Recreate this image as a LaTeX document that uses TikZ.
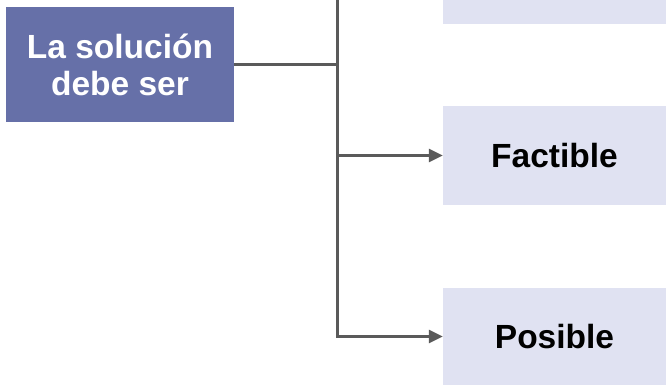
\documentclass[tikz,border=0pt]{standalone}
\usepackage{fontspec}
\setmainfont{Liberation Sans}
\usetikzlibrary{arrows.meta}
\definecolor{darkbox}{HTML}{6670A8}
\definecolor{lightbox}{HTML}{E0E2F2}
\definecolor{linegray}{HTML}{5A5A5A}
\begin{document}
\begin{tikzpicture}[x=1pt,y=-1pt,
  mainbox/.style={fill=darkbox,draw=none,minimum width=228pt,minimum height=115pt,inner sep=0pt,
    font=\fontsize{33.5}{37}\selectfont\bfseries,text=white,align=center},
  optbox/.style={fill=lightbox,draw=none,minimum width=223pt,inner sep=0pt,
    font=\fontsize{33.5}{37}\selectfont\bfseries,text=black,align=center},
  conn/.style={draw=linegray,line width=3pt},
  arr/.style={conn,-{Triangle[length=14pt,width=13pt]}}]
\useasboundingbox (0,0) rectangle (666,386);
\node[mainbox] (src) at (120,64.5) {La solución\\debe ser};
\node[optbox,minimum height=30pt] (top) at (554.5,9) {};
\node[optbox,minimum height=99pt] (fac) at (554.5,155.5) {Factible};
\node[optbox,minimum height=97pt] (pos) at (554.5,336.5) {Posible};
\coordinate (j) at (337.5,64.5);
\coordinate (t) at (337.5,0);
\coordinate (b) at (337.5,336.5);
\draw[conn] (src.east |- j) -- (j);
\draw[conn] (t) -- ([yshift=-1.5pt]b);
\draw[arr] (337.5,155.5) -- (fac.west);
\draw[arr] (b) -- (pos.west |- b);
\end{tikzpicture}
\end{document}
